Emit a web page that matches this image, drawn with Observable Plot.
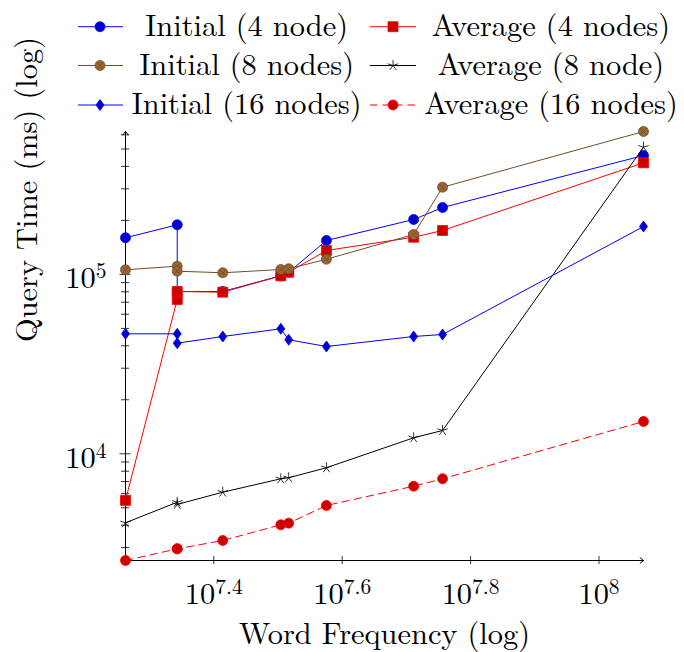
<!DOCTYPE html>
<html><head><meta charset="utf-8">
<script src="https://cdn.jsdelivr.net/npm/d3@7"></script>
<script src="https://cdn.jsdelivr.net/npm/@observablehq/plot@0.6"></script>
<style>
html,body{margin:0;padding:0;background:#fff;font-family:"Latin Modern Roman","Liberation Serif",serif;}
#wrap{width:684px;height:652px;overflow:hidden;background:#fff;}
#legend{height:126px;}
#legend svg, #chart svg{display:block;}
</style></head>
<body>
<div id="wrap"><div id="legend"></div><div id="chart"></div></div>
<script>
// ---- data ----
const freq = [1.830e7, 2.203e7, 2.203e7, 2.594e7, 3.194e7, 3.286e7, 3.762e7, 5.144e7, 5.706e7, 1.173e8];
const initial4  = [160000, 189000, 80300, 80300, 98200, 102900, 154500, 202300, 236000, 460000];
const average4  = [5500, 72500, 80300, 79600, 98200, 102900, 135900, 161200, 175700, 418800];
const initial8  = [106100, 111100, 104200, 102100, 106500, 107500, 121500, 166900, 306300, 626000];
const average8  = [4125, 5370, 5220, 6110, 7255, 7350, 8360, 12280, 13490, 511700];
const initial16 = [46650, 46650, 41360, 45070, 49750, 43200, 39630, 45070, 46240, 184900];
const average16 = [2542, 2954, 2954, 3286, 4020, 4104, 5150, 6597, 7255, 15140];
const seriesNames = ["Initial (4 node)", "Average (4 nodes)", "Initial (8 nodes)", "Average (8 node)", "Initial (16 nodes)", "Average (16 nodes)"];
const xTickExponents = ["7.4", "7.6", "7.8", "8"];
const yTickExponents = ["4", "5"];
const xAxisTitle = "Word Frequency (log)";
const yAxisTitle = "Query Time (ms) (log)";

const FAMILY = '"Latin Modern Roman", "Liberation Serif", serif';
const FL = 30.4, FSUP = 21.5;

// ---- custom marker shapes ----
const rOf = s => Math.sqrt(s / Math.PI);
const symSquare = {draw(c, s){const r=rOf(s); c.moveTo(-r,-r); c.lineTo(r,-r); c.lineTo(r,r); c.lineTo(-r,r); c.closePath();}};
const symDiamond = {draw(c, s){const r=rOf(s); c.moveTo(0,-r*1.1); c.lineTo(r*0.8,0); c.lineTo(0,r*1.1); c.lineTo(-r*0.8,0); c.closePath();}};
const symOtimes = {draw(c, s){const r=rOf(s); c.moveTo(r,0); c.arc(0,0,r,0,2*Math.PI); const q=r*0.72; c.moveTo(-q,-q); c.lineTo(q,q); c.moveTo(-q,q); c.lineTo(q,-q);}};
const symStar = {draw(c, s){const r=rOf(s); for(let i=0;i<5;i++){const a=-Math.PI/2+i*2*Math.PI/5; c.moveTo(0,0); c.lineTo(r*Math.cos(a), r*Math.sin(a));}}};

const series = [
  {name: seriesNames[0], values: initial4,  stroke:"#0000ff", fill:"#0000cc", mstroke:"#0000ff", symbol:d3.symbolCircle, r:5},
  {name: seriesNames[1], values: average4,  stroke:"#ff0000", fill:"#cc0000", mstroke:"#ff0000", symbol:symSquare, r:5},
  {name: seriesNames[2], values: initial8,  stroke:"#734d26", fill:"#996633", mstroke:"#734d26", symbol:symOtimes, r:5},
  {name: seriesNames[3], values: average8,  stroke:"#000000", fill:"none",    mstroke:"#000000", symbol:symStar, r:5.5},
  {name: seriesNames[4], values: initial16, stroke:"#0000ff", fill:"#0000cc", mstroke:"#0000ff", symbol:symDiamond, r:5},
  {name: seriesNames[5], values: average16, stroke:"#ff0000", fill:"#cc0000", mstroke:"#ff0000", symbol:d3.symbolCircle, r:5, dash:"7.5,5"}
];

// ---- layout ----
const LEG_H = 126;
const W=684, H=652-LEG_H, mL=125, mR=41, mT=131-LEG_H, mB=92;
const fw=W-mL-mR, fh=H-mT-mB;
const xDom = d3.extent(freq);
const yDom = d3.extent(series.flatMap(s => s.values));
const xMajor = xTickExponents.map(e => Math.pow(10, +e));
const yMajor = yTickExponents.map(e => Math.pow(10, +e));
const yMinor = [];
for (const base of [1e3, 1e4, 1e5]) for (let j=2;j<=9;j++){const v=j*base; if (v>=yDom[0] && v<=yDom[1]) yMinor.push(v);}

const marks = [
  Plot.tickY(yMinor, {y: d=>d, insetRight: fw-8, dx:-4, stroke:"#000", strokeWidth:0.8}),
  Plot.tickY(yMajor, {y: d=>d, insetRight: fw-11, dx:-5.5, stroke:"#000", strokeWidth:0.8}),
  Plot.tickX(xMajor, {x: d=>d, insetTop: fh-8, dy:4, stroke:"#000", strokeWidth:0.8}),
  Plot.arrow([0], {x1: xDom[0], y1: yDom[0], x2: xDom[1], y2: yDom[0], headLength:6.5, headAngle:78, stroke:"#000", strokeWidth:1}),
  Plot.arrow([0], {x1: xDom[0], y1: yDom[0], x2: xDom[0], y2: yDom[1], headLength:6.5, headAngle:78, stroke:"#000", strokeWidth:1}),
  Plot.text(yMajor, {y: d=>d, frameAnchor:"left", text:(d,i)=>"10^"+yTickExponents[i], textAnchor:"end", lineAnchor:"bottom", dx:-19, dy:14, fontSize:FL}),
  Plot.text(xMajor, {x: d=>d, frameAnchor:"bottom", text:(d,i)=>"10^"+xTickExponents[i], lineAnchor:"bottom", dy:43, fontSize:FL}),
  Plot.text([yAxisTitle], {frameAnchor:"left", rotate:-90, lineAnchor:"bottom", dx:-88.3, dy:-4, fontSize:FL}),
  Plot.text([xAxisTitle], {frameAnchor:"bottom", lineAnchor:"bottom", dy:83, fontSize:FL})
];
for (const s of series) {
  const rows = freq.map((f,i) => ({f, v: s.values[i]}));
  marks.push(Plot.line(rows, {x:"f", y:"v", stroke:s.stroke, strokeWidth:1, strokeDasharray: s.dash}));
  marks.push(Plot.dot(rows, {x:"f", y:"v", r:s.r, symbol:s.symbol, fill:s.fill, stroke:s.mstroke, strokeWidth:0.8}));
}

const svg = Plot.plot({
  width: W, height: H, marginLeft: mL, marginRight: mR, marginTop: mT, marginBottom: mB,
  x: {type:"log", domain: xDom, axis: null},
  y: {type:"log", domain: yDom, axis: null},
  style: {fontFamily: FAMILY, fontSize: FL + "px", background:"white", overflow:"visible", color:"#000"},
  marks
});

// superscripts for tick labels
const NS = "http://www.w3.org/2000/svg";
svg.querySelectorAll("text").forEach(t => {
  t.setAttribute("font-family", FAMILY);
  t.style.fontFamily = FAMILY;
  const m = t.textContent.match(/^10\^(.+)$/);
  if (m) {
    t.textContent = "";
    const a = document.createElementNS(NS, "tspan"); a.textContent = "10"; t.appendChild(a);
    const b = document.createElementNS(NS, "tspan"); b.textContent = m[1];
    b.setAttribute("dy", "-10"); b.setAttribute("font-size", FSUP); t.appendChild(b);
  }
});
document.getElementById("chart").appendChild(svg);

// ---- legend (two columns, three rows) ----
const legCols = [{x1:78, x2:123, mx:100, tx:246.7}, {x1:370, x2:416, mx:393, tx:551}];
const legBase = [35.7, 75, 114];
const legMid = [26.7, 65.5, 105];
const lsvg = d3.create("svg").attr("width", W).attr("height", LEG_H)
  .attr("font-family", FAMILY).attr("font-size", 30.4).style("font-family", FAMILY);
series.forEach((s, i) => {
  const c = legCols[i % 2], r = Math.floor(i / 2);
  lsvg.append("line").attr("x1", c.x1).attr("x2", c.x2).attr("y1", legMid[r]).attr("y2", legMid[r])
    .attr("stroke", s.stroke).attr("stroke-width", 1).attr("stroke-dasharray", s.dash || null);
  lsvg.append("path").attr("transform", `translate(${c.mx},${legMid[r]})`)
    .attr("d", d3.symbol(s.symbol, Math.PI*s.r*s.r)())
    .attr("fill", s.fill).attr("stroke", s.mstroke).attr("stroke-width", 0.8);
  lsvg.append("text").attr("x", c.tx).attr("y", legBase[r]).attr("text-anchor", "middle").text(s.name);
});
document.getElementById("legend").appendChild(lsvg.node());
</script>
</body></html>
